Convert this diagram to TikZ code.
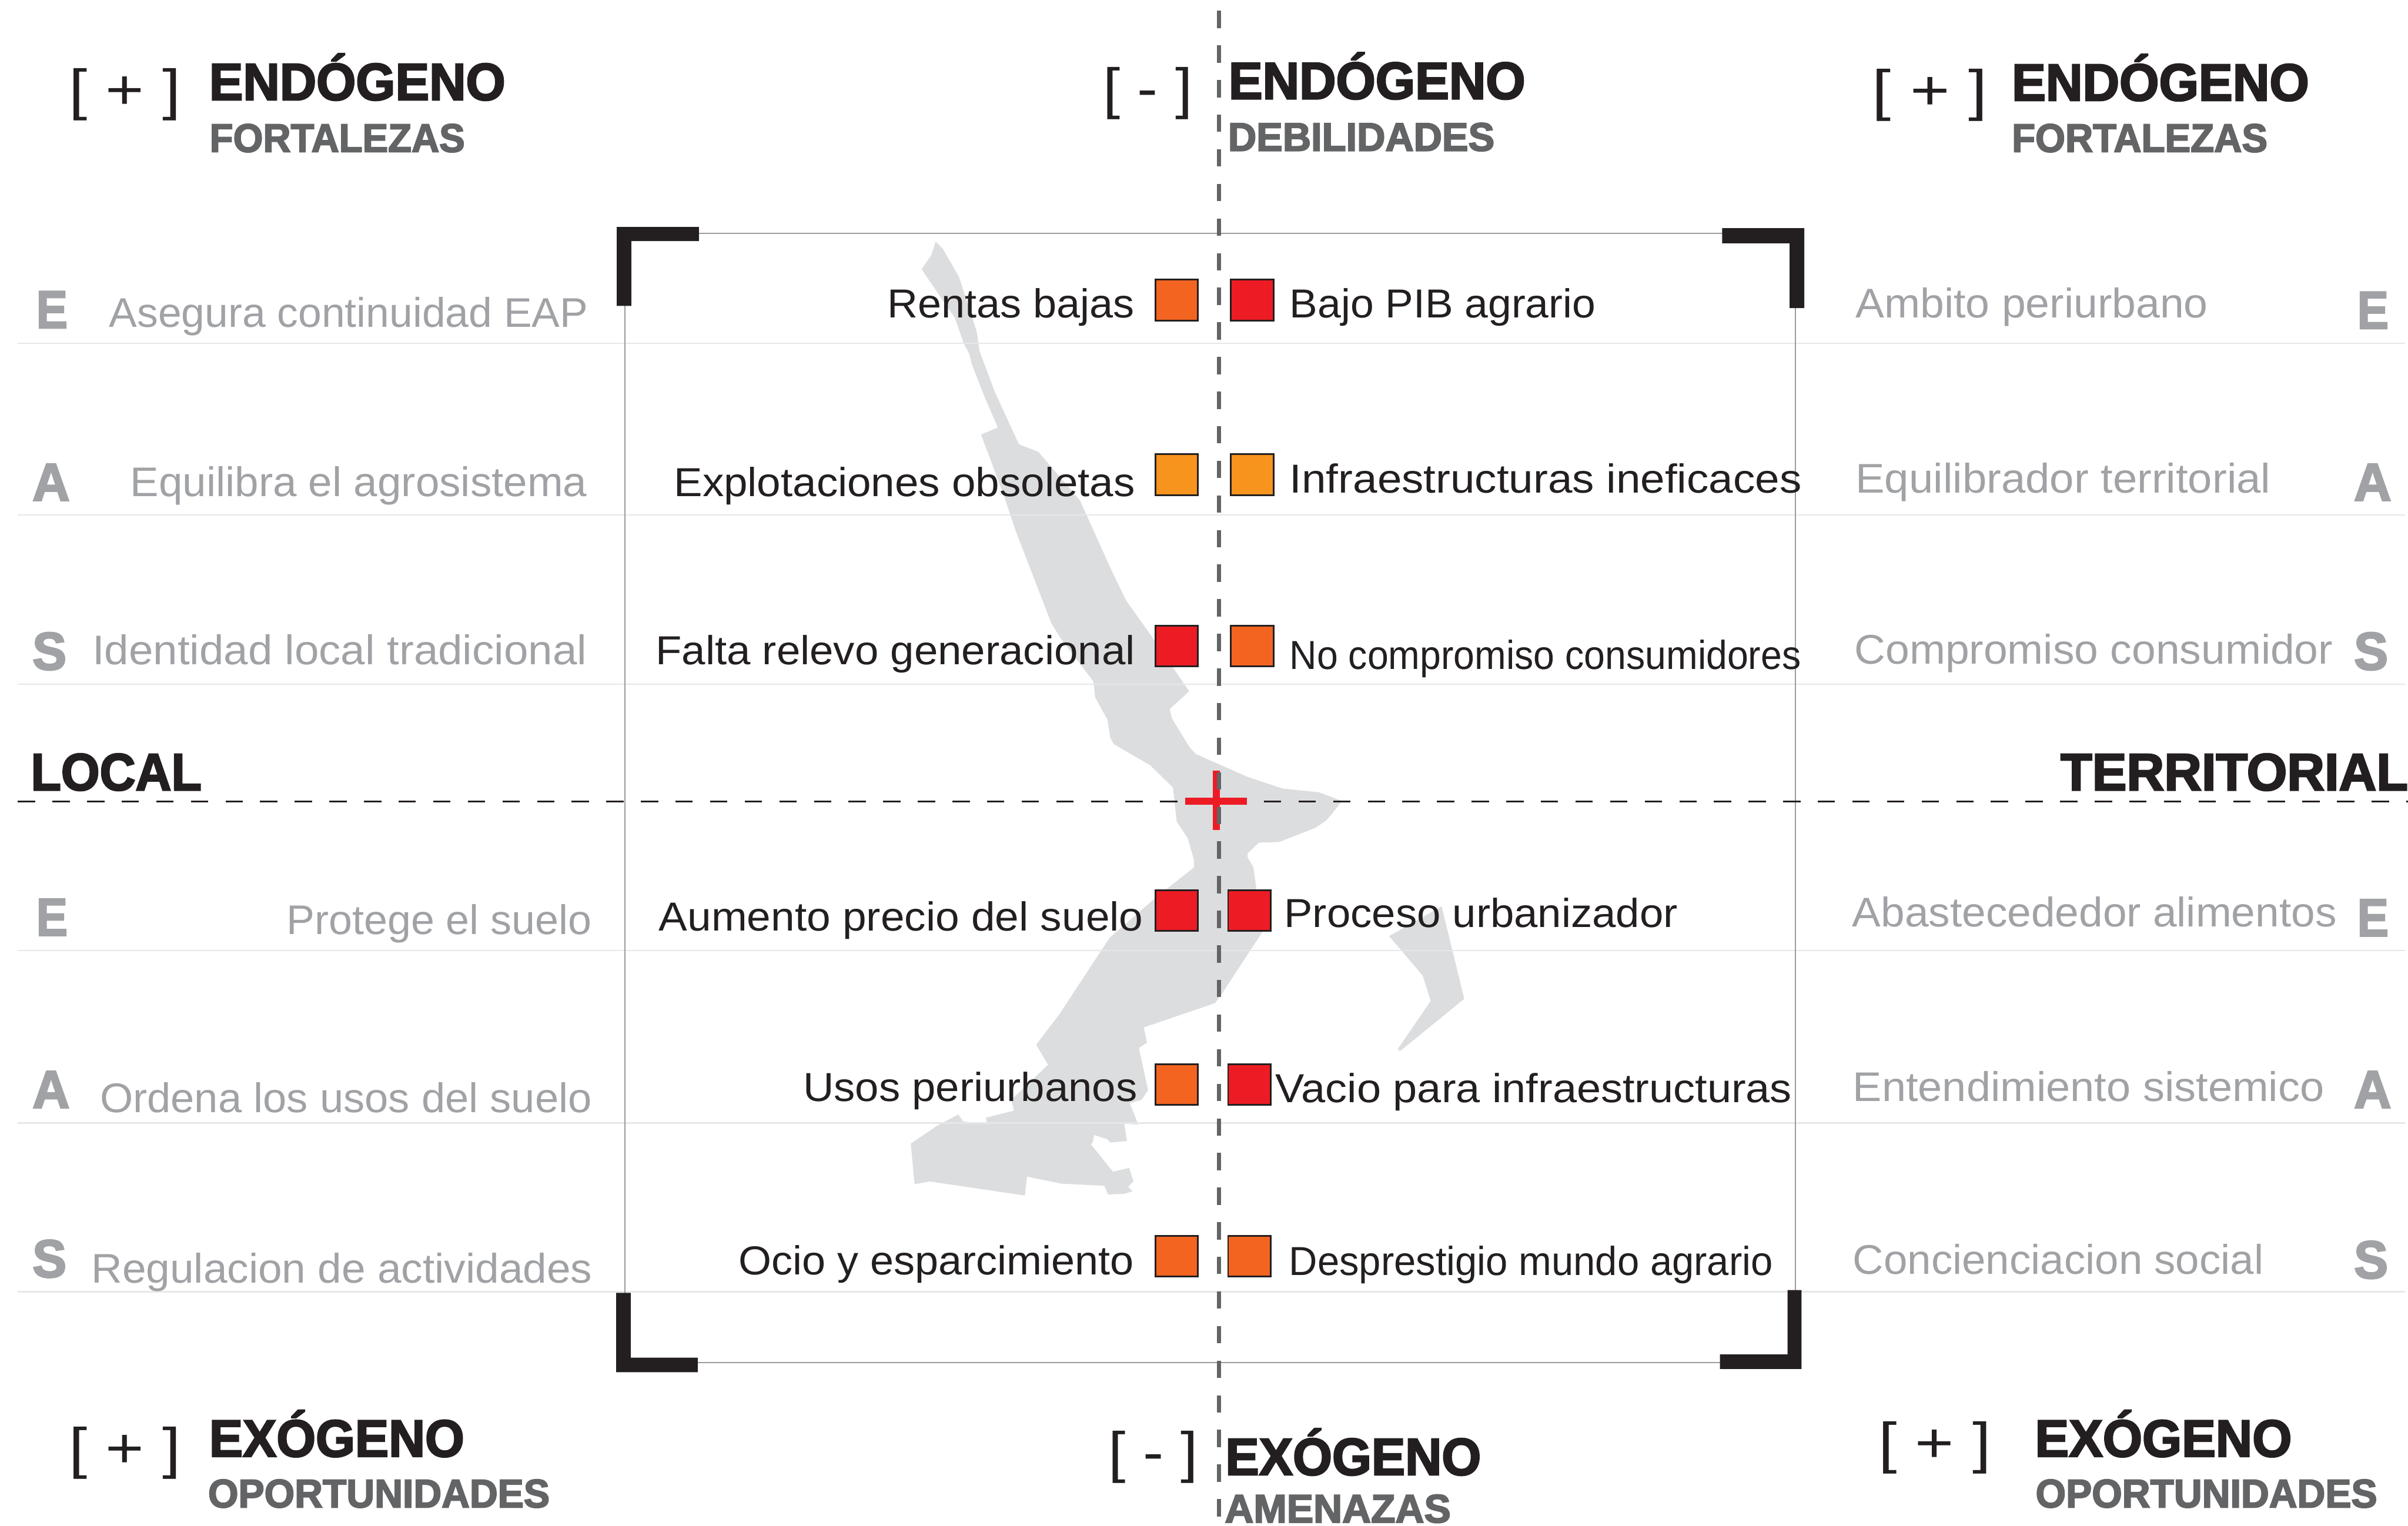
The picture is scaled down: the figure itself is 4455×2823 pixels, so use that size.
\documentclass[tikz,border=0pt]{standalone}
\usepackage{fontspec}
\setmainfont{Liberation Sans}
\newfontfamily\lblfont{Liberation Sans}
\newfontfamily\headfont[FakeBold=3]{Liberation Sans Bold}
\newfontfamily\sidefont[FakeBold=3]{Liberation Sans Bold}
\definecolor{inkblack}{HTML}{231F20}
\definecolor{subgray}{HTML}{636466}
\definecolor{softgray}{HTML}{A0A2A5}
\definecolor{mapgray}{HTML}{DCDDDE}
\definecolor{rowgray}{HTML}{E6E7E8}
\definecolor{framegray}{HTML}{9A9B9D}
\definecolor{sqred}{HTML}{ED1C24}
\definecolor{sqorange}{HTML}{F36421}
\definecolor{sqamber}{HTML}{F7941D}
\newlength\fitunit
\setlength\fitunit{0.01cm}
% text set to a given width, height kept
\newcommand{\fitw}[2]{\resizebox{#1\fitunit}{\height}{#2}}
\tikzset{
  txt/.style={inner sep=0pt,outer sep=0pt},
  headtxt/.style={txt,anchor=base west,text=inkblack,font=\headfont\fontsize{27.5}{30}\selectfont},
  subtxt/.style={txt,anchor=base west,text=subgray,font=\headfont\fontsize{21}{24}\selectfont},
  signtxt/.style={txt,anchor=base west,text=inkblack,font=\lblfont\fontsize{29.5}{32}\selectfont},
  maintxt/.style={txt,text=inkblack,font=\lblfont\fontsize{21.3}{24}\selectfont},
  graytxt/.style={txt,text=softgray,font=\lblfont\fontsize{21.8}{24}\selectfont},
  sidetxt/.style={txt,anchor=base west,text=softgray,font=\sidefont\fontsize{28}{30}\selectfont},
  rowline/.style={color=rowgray,line width=0.025cm},
  sq/.style={draw=inkblack,line width=0.03cm}
}
\begin{document}
\begin{tikzpicture}[x=0.01cm,y=-0.01cm]
\useasboundingbox (0,0) rectangle (4455,2823);
% map
\fill [mapgray] (1731,447)--(1744,460)--(1774,512)--(1807,614)--(1812,649)--(1840,724)--(1885,822)--(1921,836)--(1998,926)--(2058,1059)--(2084,1112)--(2124,1168)--(2200,1279)--(2164,1312)--(2168,1329)--(2201,1383)--(2212,1395)--(2307,1437)--(2373,1459)--(2440,1466)--(2483,1482)--(2454,1518)--(2433,1532)--(2366,1558)--(2329,1559)--(2308,1579)--(2308,1586)--(2319,1605)--(2325,1649)--(2337,1722)--(2259,1841)--(2248,1856)--(2116,1901)--(2122,1929)--(2107,1939)--(2124,2017)--(2112,2035)--(2090,2041)--(2106,2081)--(2080,2079)--(2085,2111)--(2054,2114)--(2049,2108)--(2024,2100)--(2022,2113)--(2018,2117)--(2059,2168)--(2089,2161)--(2097,2186)--(2087,2196)--(2095,2204)--(2080,2209)--(2050,2210)--(2043,2194)--(1963,2190)--(1900,2177)--(1896,2212)--(1720,2186)--(1692,2191)--(1685,2116)--(1732,2084)--(1773,2062)--(1782,2075)--(1826,2080)--(1824,2068)--(1876,2055)--(1871,2035)--(1939,1970)--(1917,1933)--(1959,1878)--(2053,1735)--(2138,1661)--(2209,1605)--(2209,1591)--(2197,1550)--(2177,1520)--(2170,1457)--(2128,1416)--(2061,1377)--(2054,1365)--(2049,1332)--(2026,1290)--(2023,1261)--(1963,1182)--(1945,1153)--(1879,982)--(1858,919)--(1815,804)--(1846,791)--(1821,733)--(1798,674)--(1793,654)--(1783,635)--(1767,589)--(1705,498)--(1723,472)--cycle;
\fill [mapgray] (2667,1677)--(2709,1848)--(2590,1945)--(2586,1941)--(2647,1852)--(2632,1805)--(2570,1732)--cycle;
% rows
\draw [rowline] (33,635)-- (4450,635);
\draw [rowline] (33,953)-- (4450,953);
\draw [rowline] (33,1266)-- (4450,1266);
\draw [rowline] (33,1759)-- (4450,1759);
\draw [rowline] (33,2078)-- (4450,2078);
\draw [rowline] (33,2390)-- (4450,2390);
% frame
\draw [color=framegray,line width=0.025cm] (1156,432) rectangle (3322,2521);
\fill [inkblack] (1141,420)--(1293,420)--(1293,446)--(1168,446)--(1168,566)--(1141,566)--cycle;
\fill [inkblack] (3338,422)--(3186,422)--(3186,450)--(3311,450)--(3311,570)--(3338,570)--cycle;
\fill [inkblack] (1140,2539)--(1291,2539)--(1291,2512)--(1167,2512)--(1167,2392)--(1140,2392)--cycle;
\fill [inkblack] (3333,2533)--(3182,2533)--(3182,2506)--(3307,2506)--(3307,2387)--(3333,2387)--cycle;
% axes
\draw [color=inkblack,line width=0.03cm,dash pattern=on 0.32cm off 0.32cm] (33,1483)-- (4455,1483);
\draw [color=sqred,line width=0.13cm] (2193,1482)-- (2307,1482);
\draw [color=sqred,line width=0.13cm] (2250,1426)-- (2250,1536);
\draw [color=subgray,line width=0.08cm,dash pattern=on 0.32cm off 0.32cm] (2255,20)-- (2255,2823);
% squares
\draw [sq,fill=sqorange] (2138,517) rectangle (2216,593);
\draw [sq,fill=sqred] (2277,517) rectangle (2356,593);
\draw [sq,fill=sqamber] (2138,840) rectangle (2216,916);
\draw [sq,fill=sqamber] (2277,840) rectangle (2356,916);
\draw [sq,fill=sqred] (2138,1158) rectangle (2216,1233);
\draw [sq,fill=sqorange] (2277,1158) rectangle (2356,1233);
\draw [sq,fill=sqred] (2138,1647) rectangle (2216,1722);
\draw [sq,fill=sqred] (2272,1647) rectangle (2351,1722);
\draw [sq,fill=sqorange] (2138,1969) rectangle (2216,2044);
\draw [sq,fill=sqred] (2272,1969) rectangle (2351,2044);
\draw [sq,fill=sqorange] (2138,2287) rectangle (2216,2362);
\draw [sq,fill=sqorange] (2272,2287) rectangle (2351,2362);
% headers
\node [signtxt] (signtl) at (128,202) {\fitw{207}{[ + ]}};
\node [headtxt] (endtl) at (387,185) {\fitw{548}{ENDÓGENO}};
\node [subtxt] (fortl) at (388,281) {\fitw{472}{FORTALEZAS}};
\node [signtxt] (signtc) at (2041,200) {\fitw{165}{[ - ]}};
\node [headtxt] (endtc) at (2273,183) {\fitw{549}{ENDÓGENO}};
\node [subtxt] (debtc) at (2272,279) {\fitw{493}{DEBILIDADES}};
\node [signtxt] (signtr) at (3464,203) {\fitw{213}{[ + ]}};
\node [headtxt] (endtr) at (3722,186) {\fitw{550}{ENDÓGENO}};
\node [subtxt] (fortr) at (3722,281) {\fitw{473}{FORTALEZAS}};
\node [signtxt] (signbl) at (128,2715) {\fitw{207}{[ + ]}};
\node [headtxt] (exobl) at (387,2695) {\fitw{472}{EXÓGENO}};
\node [subtxt] (opobl) at (385,2789) {\fitw{632}{OPORTUNIDADES}};
\node [signtxt] (signbc) at (2051,2723) {\fitw{166}{[ - ]}};
\node [headtxt] (exobc) at (2267,2729) {\fitw{473}{EXÓGENO}};
\node [subtxt] (amebc) at (2266,2817) {\fitw{418}{AMENAZAS}};
\node [signtxt] (signbr) at (3475,2705) {\fitw{209}{[ + ]}};
\node [headtxt] (exobr) at (3765,2695) {\fitw{475}{EXÓGENO}};
\node [subtxt] (opobr) at (3766,2789) {\fitw{632}{OPORTUNIDADES}};
\node [headtxt] (local) at (57,1462) {\fitw{316}{LOCAL}};
\node [headtxt] (territorial) at (3812,1462) {\fitw{643}{TERRITORIAL}};
% side letters
\node [sidetxt] (el1) at (67,607) {\fitw{58}{E}};
\node [sidetxt] (al1) at (60,926) {\fitw{69}{A}};
\node [sidetxt] (sl1) at (60,1239) {\fitw{63}{S}};
\node [sidetxt] (el2) at (67,1731) {\fitw{58}{E}};
\node [sidetxt] (al2) at (60,2050) {\fitw{69}{A}};
\node [sidetxt] (sl2) at (60,2363) {\fitw{63}{S}};
\node [sidetxt] (er1) at (4361,608) {\fitw{58}{E}};
\node [sidetxt] (ar1) at (4355,926) {\fitw{69}{A}};
\node [sidetxt] (sr1) at (4355,1239) {\fitw{63}{S}};
\node [sidetxt] (er2) at (4361,1732) {\fitw{58}{E}};
\node [sidetxt] (ar2) at (4355,2050) {\fitw{69}{A}};
\node [sidetxt] (sr2) at (4355,2365) {\fitw{63}{S}};
% gray labels
\node [graytxt,anchor=base east] (gl1) at (1088,605) {\fitw{886}{Asegura continuidad EAP}};
\node [graytxt,anchor=base east] (gl2) at (1086,919) {\fitw{845}{Equilibra el agrosistema}};
\node [graytxt,anchor=base east] (gl3) at (1086,1230) {\fitw{915}{Identidad local tradicional}};
\node [graytxt,anchor=base east] (gl4) at (1095,1729) {\fitw{565}{Protege el suelo}};
\node [graytxt,anchor=base east] (gl5) at (1095,2058) {\fitw{910}{Ordena los usos del suelo}};
\node [graytxt,anchor=base east] (gl6) at (1096,2374) {\fitw{927}{Regulacion de actividades}};
\node [graytxt,anchor=base west] (gr1) at (3433,588) {\fitw{652}{Ambito periurbano}};
\node [graytxt,anchor=base west] (gr2) at (3433,912) {\fitw{768}{Equilibrador territorial}};
\node [graytxt,anchor=base west] (gr3) at (3431,1229) {\fitw{885}{Compromiso consumidor}};
\node [graytxt,anchor=base west] (gr4) at (3427,1715) {\fitw{896}{Abastecededor alimentos}};
\node [graytxt,anchor=base west] (gr5) at (3428,2038) {\fitw{872}{Entendimiento sistemico}};
\node [graytxt,anchor=base west] (gr6) at (3428,2357) {\fitw{760}{Concienciacion social}};
% main labels
\node [maintxt,anchor=base east] (ml1) at (2099,588) {\fitw{457}{Rentas bajas}};
\node [maintxt,anchor=base east] (ml2) at (2100,918) {\fitw{853}{Explotaciones obsoletas}};
\node [maintxt,anchor=base east] (ml3) at (2100,1230) {\fitw{887}{Falta relevo generacional}};
\node [maintxt,anchor=base east] (ml4) at (2115,1722) {\fitw{896}{Aumento precio del suelo}};
\node [maintxt,anchor=base east] (ml5) at (2104,2038) {\fitw{618}{Usos periurbanos}};
\node [maintxt,anchor=base east] (ml6) at (2098,2359) {\fitw{731}{Ocio y esparcimiento}};
\node [maintxt,anchor=base west] (mr1) at (2386,588) {\fitw{566}{Bajo PIB agrario}};
\node [maintxt,anchor=base west] (mr2) at (2386,912) {\fitw{947}{Infraestructuras ineficaces}};
\node [maintxt,anchor=base west] (mr3) at (2386,1238) {\fitw{946}{No compromiso consumidores}};
\node [maintxt,anchor=base west] (mr4) at (2376,1716) {\fitw{728}{Proceso urbanizador}};
\node [maintxt,anchor=base west] (mr5) at (2360,2040) {\fitw{955}{Vacio para infraestructuras}};
\node [maintxt,anchor=base west] (mr6) at (2385,2360) {\fitw{895}{Desprestigio mundo agrario}};
\end{tikzpicture}
\end{document}
